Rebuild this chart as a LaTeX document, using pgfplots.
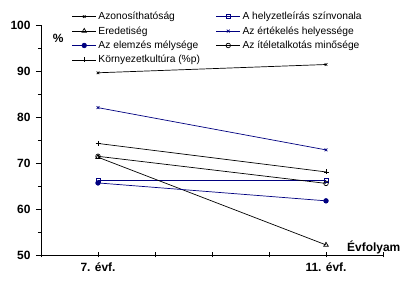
\documentclass[border=0pt]{standalone}
\usepackage{fontspec}
\setmainfont{Liberation Sans}
\usepackage{pgfplots}
\pgfplotsset{compat=1.18}
\definecolor{navy}{RGB}{0,0,128}
\begin{document}
\begin{tikzpicture}
\begin{axis}[
  name=ax,
  scale only axis,
  width=342bp, height=229.5bp,
  xmin=0, xmax=6, ymin=50, ymax=100,
  axis lines=left,
  axis line style={-, line width=0.8bp},
  xtick={0,1,2,3,4,5,6},
  xticklabels={,7. évf.,,,,11. évf.,},
  ytick={50,60,70,80,90,100},
  minor ytick={55,65,75,85,95},
  major tick length=5bp, minor tick length=3bp,
  xtick align=center, ytick align=outside,
  tick style={line width=0.8bp, black},
  /pgf/number format/assume math mode=true,
  tick label style={font=\bfseries\fontsize{12}{14}\selectfont},
  xticklabel style={yshift=-2bp},
  yticklabel style={xshift=-2bp},
  clip=false,
  every axis plot/.append style={line width=0.7bp, mark size=2.2bp},
  legend columns=2,
  legend cell align=left,
  legend style={draw=none, fill=none, at={(0.09,1.068)}, anchor=north west,
    font=\fontsize{10.3}{12}\selectfont, row sep=1.4bp, inner sep=0pt,
    /tikz/every even column/.style={column sep=14bp}},
  legend image code/.code={\draw[mark repeat=2,mark phase=2] plot coordinates {(0cm,0cm)(0.42cm,0cm)(0.84cm,0cm)};},
]
\addplot[black, mark=x, mark size=1.8bp] coordinates {(1,89.7) (5,91.5)};
\addlegendentry{Azonosíthatóság}
\addplot[navy, mark=square, mark size=2bp, mark options={solid}] coordinates {(1,66.3) (5,66.3)};
\addlegendentry{A helyzetleírás színvonala}
\addplot[black, mark=triangle, mark size=2.6bp] coordinates {(1,71.3) (5,52.2)};
\addlegendentry{Eredetiség}
\addplot[navy, mark=x, mark size=2bp] coordinates {(1,82.1) (5,72.9)};
\addlegendentry{Az értékelés helyessége}
\addplot[navy, mark=*, mark size=2.3bp] coordinates {(1,65.7) (5,61.8)};
\addlegendentry{Az elemzés mélysége}
\addplot[black, mark=o, mark size=2.3bp] coordinates {(1,71.5) (5,65.6)};
\addlegendentry{Az ítéletalkotás minősége}
\addplot[black, mark=+, mark size=2.5bp] coordinates {(1,74.3) (5,68.1)};
\addlegendentry{Környezetkultúra (\%p)}
\node[font=\bfseries\fontsize{12}{14}\selectfont] at (axis description cs:0.05,0.945) {\%};
\node[font=\bfseries\fontsize{12}{14}\selectfont, anchor=west] at (axis description cs:0.885,0.035) {Évfolyam};
\end{axis}
\pgfresetboundingbox
\path[use as bounding box] ([xshift=-41bp,yshift=-26bp]ax.south west) rectangle ([xshift=18bp,yshift=25.5bp]ax.north east);
\end{tikzpicture}
\end{document}
